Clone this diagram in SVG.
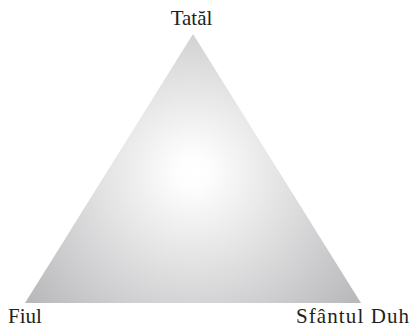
<svg xmlns="http://www.w3.org/2000/svg" width="412" height="327" viewBox="0 0 412 327">
  <style>
    .lbl { font-family: "Liberation Serif", "Times New Roman", serif; font-size: 21px; fill: #231f20; }
  </style>
  <defs>
    <radialGradient id="g" gradientUnits="userSpaceOnUse" cx="193" cy="172" r="220">
      <stop offset="0" stop-color="#ffffff"/>
      <stop offset="0.08" stop-color="#fdfdfd"/>
      <stop offset="1" stop-color="#b4b4b7"/>
    </radialGradient>
  </defs>
  <rect width="412" height="327" fill="#ffffff"/>
  <g id="triangle">
    <polygon points="193,34 25,303 361,303" fill="url(#g)"/>
  </g>
  <g id="connectors"/>
  <g id="tatal">
    <text class="lbl" x="191.5" y="25" text-anchor="middle">Tatăl</text>
  </g>
  <g id="fiul">
    <text class="lbl" x="8" y="323">Fiul</text>
  </g>
  <g id="duh">
    <text class="lbl" x="296" y="323" textLength="113" lengthAdjust="spacing">Sfântul Duh</text>
  </g>
</svg>
